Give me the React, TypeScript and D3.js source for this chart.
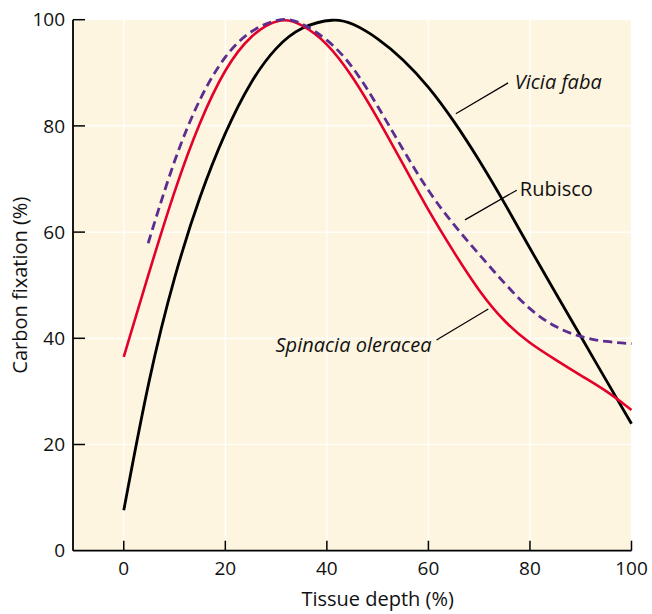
import React from 'react';
import * as d3 from 'd3';

// canvas
const width = 652;
const height = 614;
const font = '"Open Sans", "Noto Sans", sans-serif';

// ticks
const xTicks = [0, 20, 40, 60, 80, 100];
const yTicks = [0, 20, 40, 60, 80, 100];

// Vicia faba (black)
const viciaX = [0, 5, 10, 15, 20, 25, 30, 35, 41.5, 45, 50, 55, 60, 65, 70, 75, 80, 85, 90, 95, 100];
const viciaY = [7.6, 33, 52, 67, 79, 88.5, 95, 98.8, 100.3, 99.4, 96.6, 92.6, 87.5, 81, 73.6, 65.5, 56.9, 48.6, 40.4, 32.1, 23.9];

// Spinacia oleracea (red)
const spinaciaX = [0, 5, 10, 15, 20, 25, 31, 35, 40, 45, 50, 55, 60, 65, 70, 75, 80, 85, 90, 95, 100];
const spinaciaY = [36.5, 52.5, 68, 81, 91, 97.3, 100.6, 99.2, 95.8, 89.5, 81.5, 72.8, 64, 56.2, 48.8, 43, 39, 36, 33, 30.2, 26.5];

// Rubisco (purple dashed)
const rubiscoX = [4.8, 10, 15, 20, 25, 31.5, 35, 40, 45, 50, 55, 60, 65, 70, 75, 80, 85, 90, 95, 100];
const rubiscoY = [57.9, 74, 85.5, 93.5, 98.2, 100.6, 99.4, 96.5, 91.5, 83.8, 75.5, 67.6, 61.3, 55.8, 50.3, 45.3, 42, 40.2, 39.3, 39];

// scales
const x = d3.scaleLinear().domain([-10, 100]).range([73, 631.5]);
const y = d3.scaleLinear().domain([0, 100]).range([550.7, 19.7]);

const line = d3
  .line<[number, number]>()
  .x((d) => x(d[0]))
  .y((d) => y(d[1]))
  .curve(d3.curveBasis);

const zip = (xs: number[], ys: number[]) => xs.map((v, i) => [v, ys[i]] as [number, number]);

// labels with leader lines, in data units
const labels = [
  { text: 'Vicia faba', italic: true, tx: 77, ty: 86.9, anchor: 'start', l: [75.7, 88.1, 65.4, 82.3] },
  { text: 'Rubisco', italic: false, tx: 78, ty: 66.8, anchor: 'start', l: [77.4, 67.9, 67.2, 62.3] },
  { text: 'Spinacia oleracea', italic: true, tx: 60.6, ty: 37.5, anchor: 'end', l: [61.6, 39.7, 71.8, 45.5] },
];

const App = () => {
  const [x0, x1] = x.range();
  const [y0, y1] = y.range();
  return (
    <svg
      width={width}
      height={height}
      style={{ position: 'absolute', left: 0, top: 0, background: '#fff' }}
      fontFamily={font}
    >
      {/* plot background */}
      <rect x={x0} y={y1} width={x1 - x0} height={y0 - y1} fill="#fdf5df" />
      {/* grid */}
      {xTicks.map((t) => (
        <line key={'gx' + t} x1={x(t)} x2={x(t)} y1={y0} y2={y1} stroke="#fff" strokeWidth={1.2} />
      ))}
      {yTicks.map((t) => (
        <line key={'gy' + t} x1={x0} x2={x1} y1={y(t)} y2={y(t)} stroke="#fff" strokeWidth={1.2} />
      ))}

      {/* curves */}
      <path d={line(zip(viciaX, viciaY)) || ''} fill="none" stroke="#000" strokeWidth={2.8} />
      <path d={line(zip(spinaciaX, spinaciaY)) || ''} fill="none" stroke="#e3002b" strokeWidth={2.6} />
      <path
        d={line(zip(rubiscoX, rubiscoY)) || ''}
        fill="none"
        stroke="#5c2d91"
        strokeWidth={2.8}
        strokeDasharray="9,5"
      />

      {/* annotations */}
      {labels.map((a) => (
        <g key={a.text}>
          <line x1={x(a.l[0])} y1={y(a.l[1])} x2={x(a.l[2])} y2={y(a.l[3])} stroke="#000" strokeWidth={1.2} />
          <text
            x={x(a.tx)}
            y={y(a.ty)}
            textAnchor={a.anchor}
            fontSize={20}
            fontStyle={a.italic ? 'italic' : 'normal'}
            fill="#111"
          >
            {a.text}
          </text>
        </g>
      ))}

      {/* axes */}
      <line x1={x0} x2={x0} y1={y0} y2={y1} stroke="#000" strokeWidth={1.8} />
      <line x1={x0} x2={x1} y1={y0} y2={y0} stroke="#000" strokeWidth={1.8} />
      {yTicks.map((t) => (
        <g key={'yt' + t}>
          {t > 0 && <line x1={x0} x2={x0 + 12} y1={y(t)} y2={y(t)} stroke="#000" strokeWidth={1.5} />}
          <text x={65} y={y(t)} dy="0.35em" textAnchor="end" fontSize={19} fill="#111">
            {t}
          </text>
        </g>
      ))}
      {xTicks.map((t) => (
        <g key={'xt' + t}>
          <line x1={x(t)} x2={x(t)} y1={y0} y2={y0 - 10} stroke="#000" strokeWidth={1.5} />
          <text x={x(t)} y={575} textAnchor="middle" fontSize={19} fill="#111">
            {t}
          </text>
        </g>
      ))}

      {/* axis titles */}
      <text x={(x(0) + x(100)) / 2} y={606} textAnchor="middle" fontSize={20} fill="#111">
        Tissue depth (%)
      </text>
      <text
        transform={`translate(27,${(y(0) + y(100)) / 2}) rotate(-90)`}
        textAnchor="middle"
        fontSize={20}
        fill="#111"
      >
        Carbon fixation (%)
      </text>
    </svg>
  );
};

export default App;
